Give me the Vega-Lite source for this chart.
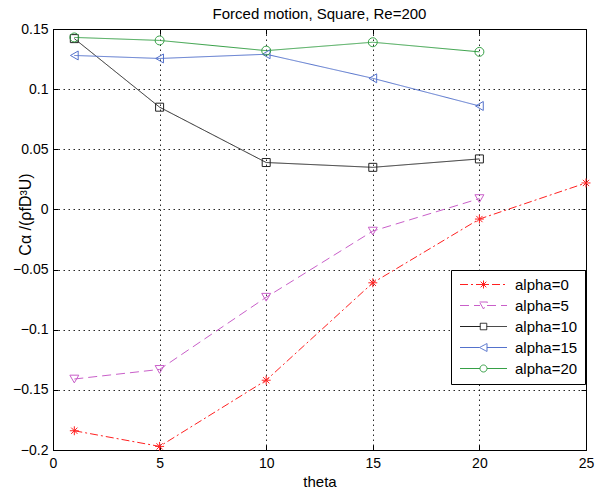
{
  "$schema": "https://vega.github.io/schema/vega-lite/v6.json",
  "autosize": "none",
  "width": 533,
  "height": 421,
  "padding": {"left": 53, "top": 29, "right": 9, "bottom": 43},
  "background": "white",
  "title": {"text": "Forced motion, Square, Re=200", "fontSize": 15, "fontWeight": "normal", "font": "Liberation Sans", "offset": 0, "color": "black"},
  "data": {"values": [
    {"series": "alpha=0", "theta": 1, "value": -0.184},
    {"series": "alpha=0", "theta": 5, "value": -0.197},
    {"series": "alpha=0", "theta": 10, "value": -0.142},
    {"series": "alpha=0", "theta": 15, "value": -0.061},
    {"series": "alpha=0", "theta": 20, "value": -0.008},
    {"series": "alpha=0", "theta": 25, "value": 0.022},
    {"series": "alpha=5", "theta": 1, "value": -0.141},
    {"series": "alpha=5", "theta": 5, "value": -0.133},
    {"series": "alpha=5", "theta": 10, "value": -0.073},
    {"series": "alpha=5", "theta": 15, "value": -0.018},
    {"series": "alpha=5", "theta": 20, "value": 0.009},
    {"series": "alpha=10", "theta": 1, "value": 0.142},
    {"series": "alpha=10", "theta": 5, "value": 0.085},
    {"series": "alpha=10", "theta": 10, "value": 0.039},
    {"series": "alpha=10", "theta": 15, "value": 0.035},
    {"series": "alpha=10", "theta": 20, "value": 0.042},
    {"series": "alpha=15", "theta": 1, "value": 0.128},
    {"series": "alpha=15", "theta": 5, "value": 0.1255},
    {"series": "alpha=15", "theta": 10, "value": 0.129},
    {"series": "alpha=15", "theta": 15, "value": 0.109},
    {"series": "alpha=15", "theta": 20, "value": 0.086},
    {"series": "alpha=20", "theta": 1, "value": 0.143},
    {"series": "alpha=20", "theta": 5, "value": 0.1405},
    {"series": "alpha=20", "theta": 10, "value": 0.132},
    {"series": "alpha=20", "theta": 15, "value": 0.139},
    {"series": "alpha=20", "theta": 20, "value": 0.131}
  ]},
  "layer": [
    {
      "mark": {"type": "line", "strokeWidth": 1},
      "encoding": {
        "x": {"field": "theta", "type": "quantitative", "scale": {"domain": [0, 25], "nice": false},
              "axis": {"orient": "bottom", "title": "theta", "values": [0, 5, 10, 15, 20, 25], "grid": true, "tickSize": -5, "labelPadding": 11, "titlePadding": 4}},
        "y": {"field": "value", "type": "quantitative", "scale": {"domain": [-0.2, 0.15], "nice": false, "zero": false},
              "axis": {"orient": "left", "title": "Cα /(ρfD³U)", "titleFontSize": 16, "values": [-0.2, -0.15, -0.1, -0.05, 0, 0.05, 0.1, 0.15], "format": "~g", "grid": true, "tickSize": -5, "labelPadding": 10, "titleX": -28, "titleY": 185, "titleBaseline": "middle", "titleAlign": "center", "titleAngle": -90}},
        "color": {"field": "series", "type": "nominal",
                  "scale": {"domain": ["alpha=0", "alpha=5", "alpha=10", "alpha=15", "alpha=20"], "range": ["#ff2020", "#c95fc9", "#222222", "#5472cc", "#36a046"]},
                  "legend": {
                    "title": null, "orient": "none", "legendX": 398, "legendY": 241,
                    "strokeColor": "black", "fillColor": "white", "padding": 7,
                    "symbolSize": 100, "symbolStrokeWidth": 1, "labelFontSize": 15, "labelOffset": 42, "rowPadding": 5,
                    "labelColor": "black"
                  }},
        "strokeDash": {"field": "series", "type": "nominal",
                  "scale": {"domain": ["alpha=0", "alpha=5", "alpha=10", "alpha=15", "alpha=20"], "range": [[8, 3, 2, 3], [9, 5], [1, 0], [1, 0], [1, 0]]},
                  "legend": {"title": null}}
      }
    },
    {
      "transform": [{"filter": {"field": "series", "equal": "alpha=0"}}],
      "mark": {"type": "point", "filled": false, "size": 80, "strokeWidth": 1, "opacity": 1, "shape": "M-1,0L1,0M0,-1L0,1M-0.7,-0.7L0.7,0.7M-0.7,0.7L0.7,-0.7"},
      "encoding": {
        "x": {"field": "theta", "type": "quantitative",
              "axis": {"orient": "top", "labels": false, "title": null, "grid": false, "tickSize": -5, "values": [0, 5, 10, 15, 20, 25], "domain": false}},
        "y": {"field": "value", "type": "quantitative",
              "axis": {"orient": "right", "labels": false, "title": null, "grid": false, "tickSize": -5, "values": [-0.2, -0.15, -0.1, -0.05, 0, 0.05, 0.1, 0.15], "domain": false}},
        "color": {"field": "series", "type": "nominal"}
      }
    },
    {
      "transform": [{"filter": {"field": "series", "equal": "alpha=5"}}],
      "mark": {"type": "point", "filled": false, "size": 80, "strokeWidth": 1, "opacity": 1, "shape": "triangle-down"},
      "encoding": {
        "x": {"field": "theta", "type": "quantitative", "axis": null},
        "y": {"field": "value", "type": "quantitative", "axis": null},
        "color": {"field": "series", "type": "nominal"}
      }
    },
    {
      "transform": [{"filter": {"field": "series", "equal": "alpha=10"}}],
      "mark": {"type": "point", "filled": false, "size": 64, "strokeWidth": 1, "opacity": 1, "shape": "square"},
      "encoding": {
        "x": {"field": "theta", "type": "quantitative", "axis": null},
        "y": {"field": "value", "type": "quantitative", "axis": null},
        "color": {"field": "series", "type": "nominal"}
      }
    },
    {
      "transform": [{"filter": {"field": "series", "equal": "alpha=15"}}],
      "mark": {"type": "point", "filled": false, "size": 80, "strokeWidth": 1, "opacity": 1, "shape": "triangle-left"},
      "encoding": {
        "x": {"field": "theta", "type": "quantitative", "axis": null},
        "y": {"field": "value", "type": "quantitative", "axis": null},
        "color": {"field": "series", "type": "nominal"}
      }
    },
    {
      "transform": [{"filter": {"field": "series", "equal": "alpha=20"}}],
      "mark": {"type": "point", "filled": false, "size": 80, "strokeWidth": 1, "opacity": 1, "shape": "circle"},
      "encoding": {
        "x": {"field": "theta", "type": "quantitative", "axis": null},
        "y": {"field": "value", "type": "quantitative", "axis": null},
        "color": {"field": "series", "type": "nominal"}
      }
    },
    {
      "transform": [{"filter": "datum.theta > 1000"}],
      "mark": {"type": "point", "filled": false, "size": 100, "strokeWidth": 1, "opacity": 1},
      "encoding": {
        "color": {"field": "series", "type": "nominal"},
        "shape": {"field": "series", "type": "nominal",
                  "scale": {"domain": ["alpha=0", "alpha=5", "alpha=10", "alpha=15", "alpha=20"],
                            "range": [
                              "M-1.1,0L8.3,0M3.6,-0.8L3.6,0.8M2.8,0L4.4,0M3.03,-0.57L4.17,0.57M3.03,0.57L4.17,-0.57",
                              "M-1.1,0L2.9,0M4.3,0L8.3,0M2.8,-0.7L4.4,-0.7L3.6,0.7Z",
                              "M-1.1,0L2.95,0M4.25,0L8.3,0M2.95,-0.65L4.25,-0.65L4.25,0.65L2.95,0.65Z",
                              "M-1.1,0L2.8,0M4.3,0L8.3,0M2.8,0L4.3,-0.8L4.3,0.8Z",
                              "M-1.1,0L2.9,0M4.3,0L8.3,0M2.9,0A0.7,0.7 0 1,0 4.3,0A0.7,0.7 0 1,0 2.9,0Z"
                            ]},
                  "legend": {"title": null}}
      }
    }
  ],
  "resolve": {"axis": {"x": "independent", "y": "independent"}},
  "config": {
    "font": "Liberation Sans",
    "view": {"stroke": "black", "strokeWidth": 1},
    "axis": {
      "labelFontSize": 14, "titleFontSize": 15, "titleFontWeight": "normal",
      "labelColor": "black", "titleColor": "black",
      "domainColor": "black", "tickColor": "black", "tickWidth": 1,
      "gridColor": "black", "gridDash": [1.5, 3.5], "gridOpacity": 0.85, "gridWidth": 1,
      "labelFlush": false, "labelOverlap": false
    }
  }
}
